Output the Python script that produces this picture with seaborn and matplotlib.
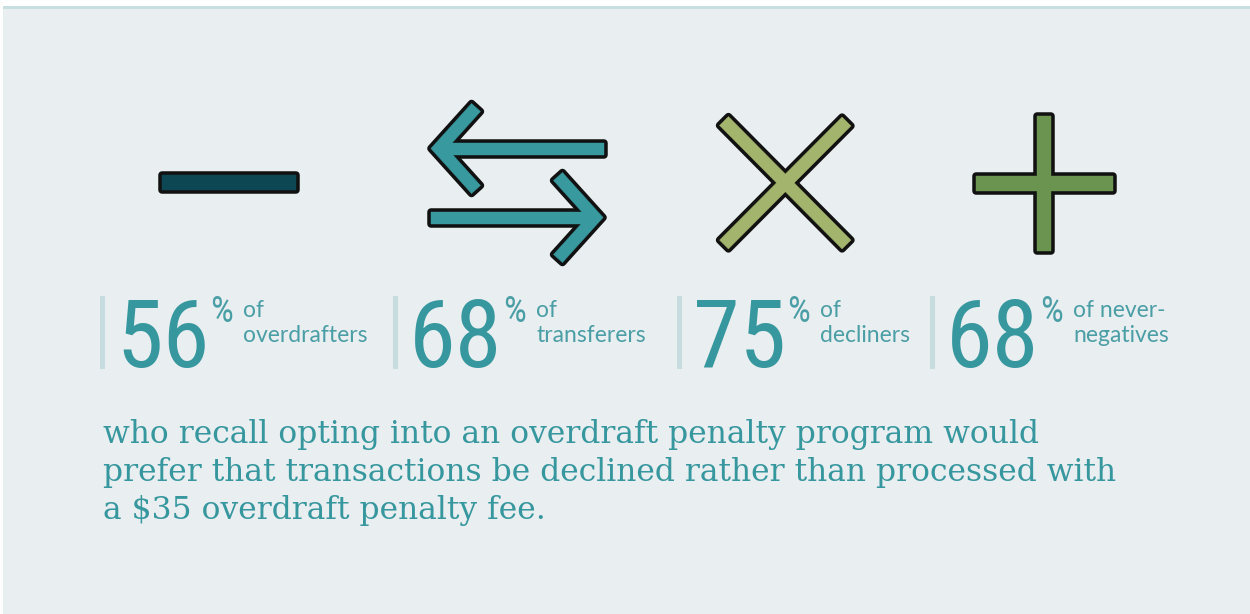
import numpy as np
import matplotlib
matplotlib.use("Agg")
import matplotlib.pyplot as plt
import seaborn as sns
from matplotlib.patches import Polygon, Rectangle
from matplotlib import font_manager

# ---------------- data ----------------
percentages = [56, 68, 75, 68]
groups = ["overdrafters", "transferers", "decliners", "never-negatives"]
label_lines = [["of", "overdrafters"], ["of", "transferers"],
               ["of", "decliners"], ["of never-", "negatives"]]
caption_lines = [
    "who recall opting into an overdraft penalty program would",
    "prefer that transactions be declined rather than processed with",
    "a $35 overdraft penalty fee.",
]
icon_colors = ["#0d4753", "#38999f", "#a3b56d", "#6a9450"]

# ---------------- style ----------------
sns.set_theme(style="white")
available = {f.name for f in font_manager.fontManager.ttflist}


def pick(*names):
    for n in names:
        if n in available:
            return n
    return "DejaVu Sans"


NARROW = pick("Liberation Sans Narrow", "Roboto Condensed", "DejaVu Sans Condensed", "Liberation Sans")
SANS = pick("Lato", "Open Sans", "DejaVu Sans")
SERIF = pick("DejaVu Serif", "Liberation Serif")

TEAL = "#36979e"
LABEL = "#4a9ea5"
BAR = "#c6dcdf"
PANEL = "#e9eef0"
BORDER = "#c8dee1"
OUTLINE = "#111111"

W, H = 1250, 614
fig = plt.figure(figsize=(W / 100, H / 100), dpi=100, facecolor="white")
ax = fig.add_axes([0, 0, 1, 1])
ax.set_xlim(0, W)
ax.set_ylim(H, 0)
ax.axis("off")
renderer = fig.canvas.get_renderer()

# panel
ax.add_patch(Rectangle((3, 6), W - 3, H - 6, facecolor=PANEL, edgecolor="none", zorder=0))
ax.add_patch(Rectangle((3, 6), W - 3, 3, facecolor=BORDER, edgecolor="none", zorder=1))


# ---------------- icons ----------------
def stroke_poly(pts, w):
    pts = np.asarray(pts, float)
    n = len(pts)
    d = np.diff(pts, axis=0)
    d /= np.linalg.norm(d, axis=1)[:, None]
    nrm = np.stack([-d[:, 1], d[:, 0]], axis=1)
    h = w / 2.0
    left, right = [], []
    for i in range(n):
        if i == 0:
            m, s = nrm[0], h
        elif i == n - 1:
            m, s = nrm[-1], h
        else:
            m = nrm[i - 1] + nrm[i]
            m = m / np.linalg.norm(m)
            s = h / np.dot(m, nrm[i])
        left.append(pts[i] + s * m)
        right.append(pts[i] - s * m)
    return np.vstack([left, right[::-1]])


icons = [
    # minus
    [([(162, 182), (296, 182)], 15)],
    # arrows
    [([(445, 148.5), (604, 148.5)], 12),
     ([(476, 107.5), (439, 148.5), (476, 189.5)], 12),
     ([(431, 217.5), (589, 217.5)], 12),
     ([(558, 176.5), (595, 217.5), (558, 258.5)], 12)],
    # X
    [([(724, 121), (846.5, 244.5)], 12.5),
     ([(846.5, 121.5), (724, 244.5)], 12.5)],
    # plus
    [([(1043.5, 115.5), (1043.5, 250.5)], 14),
     ([(975.5, 183), (1112.5, 183)], 15)],
]

OUT_LW = 7.5 * 72 / 100.0  # ~3.75 px visible outline
for strokes, col in zip(icons, icon_colors):
    polys = [stroke_poly(p, w) for p, w in strokes]
    for poly in polys:
        ax.add_patch(Polygon(poly, closed=True, facecolor=OUTLINE, edgecolor=OUTLINE,
                             lw=OUT_LW, joinstyle="round", zorder=3))
    for poly in polys:
        ax.add_patch(Polygon(poly, closed=True, facecolor=col, edgecolor=col,
                             lw=0.3, zorder=4))

# ---------------- percentages ----------------
bar_x = [100, 393, 677, 930]


def right_of(t):
    return t.get_window_extent(renderer).x1


for bx, pct, lines in zip(bar_x, percentages, label_lines):
    ax.add_patch(Rectangle((bx, 296), 5, 73, facecolor=BAR, edgecolor="none", zorder=2))
    tn = ax.text(bx + 16, 367, f"{pct}", fontfamily=NARROW, fontsize=68, color=TEAL,
                 ha="left", va="baseline", zorder=5)
    r = right_of(tn)
    tp = ax.text(r + 1, 322, "%", fontfamily=NARROW, fontsize=26, color=LABEL,
                 ha="left", va="baseline", zorder=5)
    r2 = right_of(tp)
    for j, line in enumerate(lines):
        ax.text(r2 + 10, 317 + 25 * j, line, fontfamily=SANS, fontsize=16.5, color=LABEL,
                ha="left", va="baseline", zorder=5)

# ---------------- caption ----------------
caption_texts = []
for j, line in enumerate(caption_lines):
    t = ax.text(103, 443 + 38 * j, line, fontfamily=SERIF, fontsize=20, color=TEAL,
                ha="left", va="baseline", zorder=5)
    caption_texts.append(t)
w_sum = (caption_texts[0].get_window_extent(renderer).width
         + caption_texts[1].get_window_extent(renderer).width)
fs = 20 * (944.0 + 1004.0) / w_sum
for t in caption_texts:
    t.set_fontsize(fs)

fig.savefig("out.png", dpi=100, facecolor="white")
